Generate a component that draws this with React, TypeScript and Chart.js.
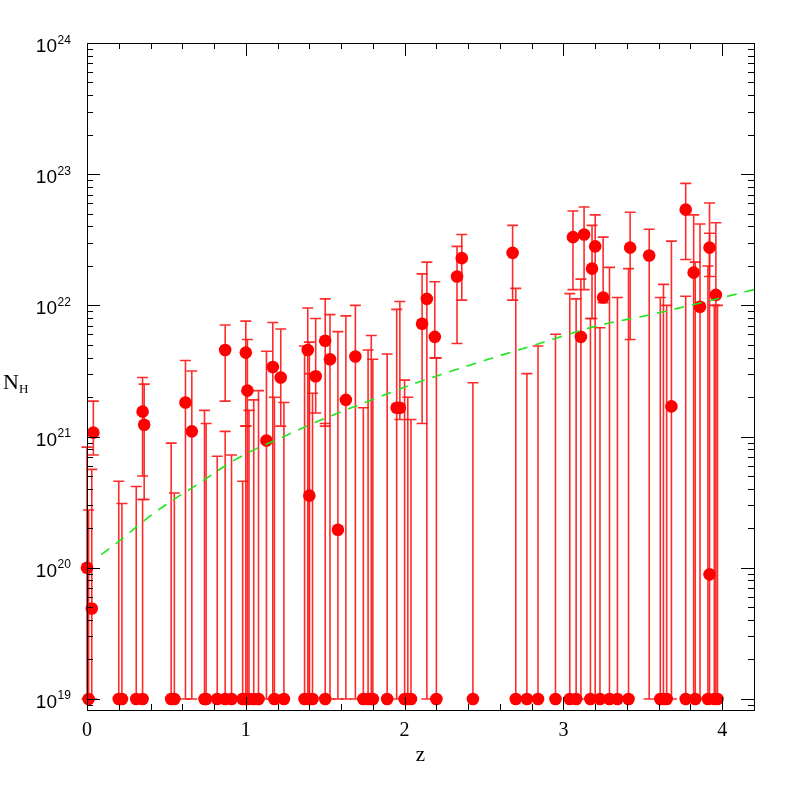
import React, { useEffect, useRef } from 'react';
import { Chart, registerables } from 'chart.js';

Chart.register(...registerables);

// Detections: redshift, log10 N_H, lower and upper error (log10)
const detZ = [0.00, 0.03, 0.04, 0.35, 0.36, 0.62, 0.66, 0.87, 1.00, 1.01, 1.13, 1.17, 1.22, 1.39, 1.40, 1.44, 1.50, 1.53, 1.58, 1.63, 1.69, 1.95, 1.97, 2.11, 2.14, 2.19, 2.33, 2.36, 2.68, 3.06, 3.11, 3.13, 3.18, 3.20, 3.25, 3.42, 3.54, 3.68, 3.77, 3.82, 3.86, 3.92, 3.92, 3.96];
const detLogNH = [20.00, 19.69, 21.03, 21.19, 21.09, 21.26, 21.04, 21.66, 21.64, 21.35, 20.97, 21.53, 21.45, 21.66, 20.55, 21.46, 21.73, 21.59, 20.29, 21.28, 21.61, 21.22, 21.22, 21.86, 22.05, 21.76, 22.22, 22.36, 22.40, 22.52, 21.76, 22.54, 22.28, 22.45, 22.06, 22.44, 22.38, 21.23, 22.73, 22.25, 21.99, 22.44, 19.95, 22.08];
const detLogLo = [19.00, 19.00, 20.86, 20.70, 20.52, 19.00, 19.00, 21.27, 21.08, 19.00, 19.00, 19.00, 21.08, 19.00, 19.00, 21.18, 21.08, 19.00, 19.00, 19.00, 19.00, 19.00, 21.13, 21.10, 19.00, 21.60, 21.71, 22.04, 22.04, 22.12, 19.00, 22.12, 21.90, 19.00, 22.02, 21.74, 19.00, 19.00, 22.35, 19.00, 19.00, 22.22, 19.00, 19.00];
const detLogHi = [20.92, 20.75, 21.27, 21.45, 21.40, 21.58, 21.50, 21.85, 21.88, 21.74, 21.65, 21.87, 21.82, 21.98, 21.72, 21.90, 22.05, 21.93, 21.80, 21.92, 22.00, 21.97, 22.03, 22.24, 22.33, 22.18, 22.45, 22.54, 22.61, 22.72, 22.20, 22.75, 22.61, 22.69, 22.52, 22.71, 22.58, 22.49, 22.93, 22.69, 22.62, 22.78, 22.55, 22.63];

// Upper limits: plotted at 10^19 with a bar up to the limit
const limFloorLog = 19;
const limZ = [0.01, 0.20, 0.22, 0.31, 0.35, 0.53, 0.55, 0.74, 0.75, 0.82, 0.87, 0.91, 0.98, 1.00, 1.02, 1.05, 1.08, 1.18, 1.24, 1.37, 1.40, 1.42, 1.50, 1.74, 1.77, 1.79, 1.80, 1.89, 2.00, 2.02, 2.04, 2.20, 2.43, 2.70, 2.77, 2.84, 2.95, 3.04, 3.08, 3.17, 3.23, 3.29, 3.34, 3.41, 3.61, 3.63, 3.65, 3.77, 3.83, 3.91, 3.95, 3.97];
const limLogHi = [20.44, 20.66, 20.49, 20.62, 20.52, 20.95, 20.57, 21.20, 21.10, 20.85, 21.04, 20.86, 20.66, 21.08, 21.20, 21.28, 21.35, 21.30, 21.26, 21.69, 21.48, 21.33, 21.10, 21.22, 21.66, 21.77, 21.59, 21.63, 21.43, 21.30, 21.13, 21.60, 21.41, 22.13, 21.48, 21.69, 21.78, 22.09, 22.05, 21.90, 21.83, 22.29, 22.06, 22.28, 22.06, 22.16, 22.00, 22.07, 22.33, 22.30, 22.00, 22.00];

// Dashed model curve
const curveZ = [0.09, 0.21, 0.35, 0.52, 0.69, 0.90, 1.07, 1.22, 1.44, 1.75, 2.10, 2.45, 2.85, 3.20, 3.55, 3.90, 4.20];
const curveLogNH = [20.10, 20.21, 20.35, 20.50, 20.63, 20.80, 20.91, 20.99, 21.11, 21.26, 21.42, 21.56, 21.71, 21.84, 21.93, 22.03, 22.12];

// Axes
const xMin = 0;
const xMax = 4.2;
const xMajorTicks = [0, 1, 2, 3, 4];
const xMinorStep = 0.2;
const yMinLog = 18.916;
const yMaxLog = 24;
const yMajorExp = [19, 20, 21, 22, 23, 24];

const RED = '#ff0000';
const BAR = 'rgba(255,20,20,0.9)';
const GREEN = '#1ee61e';

const errorBarsPlugin = {
  id: 'errorBars',
  beforeDatasetsDraw(chart: any) {
    const ctx = chart.ctx;
    const xs = chart.scales.x;
    const ys = chart.scales.y;
    const cap = 5.5;
    ctx.save();
    ctx.strokeStyle = BAR;
    ctx.lineWidth = 1.6;
    const bar = (z: number, lo: number, hi: number, capLo: boolean) => {
      const px = xs.getPixelForValue(z);
      const pLo = ys.getPixelForValue(Math.pow(10, lo));
      const pHi = ys.getPixelForValue(Math.pow(10, hi));
      ctx.beginPath();
      ctx.moveTo(px, pLo);
      ctx.lineTo(px, pHi);
      ctx.moveTo(px - cap, pHi);
      ctx.lineTo(px + cap, pHi);
      if (capLo) {
        ctx.moveTo(px - cap, pLo);
        ctx.lineTo(px + cap, pLo);
      }
      ctx.stroke();
    };
    for (let i = 0; i < limZ.length; i++) bar(limZ[i], limFloorLog, limLogHi[i], false);
    for (let i = 0; i < detZ.length; i++) bar(detZ[i], detLogLo[i], detLogHi[i], true);
    ctx.restore();
  },
};

const framePlugin = {
  id: 'frameAxes',
  afterDraw(chart: any) {
    const ctx = chart.ctx;
    const xs = chart.scales.x;
    const ys = chart.scales.y;
    const { left, right, top, bottom } = chart.chartArea;
    ctx.save();
    ctx.strokeStyle = '#000';
    ctx.lineWidth = 1;
    ctx.strokeRect(left + 0.5, top + 0.5, right - left, bottom - top);
    const major = 13;
    const minor = 6;
    ctx.beginPath();
    const nMinor = Math.round((xMax - xMin) / xMinorStep);
    for (let i = 0; i <= nMinor; i++) {
      const v = xMin + i * xMinorStep;
      const isMajor = xMajorTicks.some((t) => Math.abs(t - v) < 1e-6);
      const len = isMajor ? major : minor;
      const px = Math.round(xs.getPixelForValue(v)) + 0.5;
      ctx.moveTo(px, bottom);
      ctx.lineTo(px, bottom - len);
      ctx.moveTo(px, top);
      ctx.lineTo(px, top + len);
    }
    for (let e = Math.floor(yMinLog); e < yMaxLog + 1; e++) {
      for (let k = 1; k <= 9; k++) {
        const lv = e + Math.log10(k);
        if (lv < yMinLog - 1e-9 || lv > yMaxLog + 1e-9) continue;
        const len = k === 1 ? major : minor;
        const py = Math.round(ys.getPixelForValue(Math.pow(10, lv))) + 0.5;
        ctx.moveTo(left, py);
        ctx.lineTo(left + len, py);
        ctx.moveTo(right, py);
        ctx.lineTo(right - len, py);
      }
    }
    ctx.stroke();

    ctx.fillStyle = '#000';
    ctx.font = '20px "Liberation Serif"';
    ctx.textAlign = 'center';
    ctx.textBaseline = 'middle';
    for (const t of xMajorTicks) {
      ctx.fillText(String(t), xs.getPixelForValue(t), bottom + 21);
    }
    ctx.font = '21px "Liberation Serif"';
    ctx.fillText('z', (left + right) / 2, bottom + 45);

    for (const e of yMajorExp) {
      const py = ys.getPixelForValue(Math.pow(10, e));
      ctx.font = '19px "Liberation Sans"';
      ctx.textAlign = 'right';
      ctx.textBaseline = 'alphabetic';
      ctx.fillText('10', 57, py + 9);
      ctx.font = '12px "Liberation Sans"';
      ctx.textAlign = 'left';
      ctx.fillText(String(e), 57.5, py + 0.5);
    }
    ctx.textAlign = 'left';
    ctx.textBaseline = 'alphabetic';
    ctx.font = '22px "Liberation Serif"';
    ctx.fillText('N', 3, 389);
    ctx.font = '13px "Liberation Serif"';
    ctx.fillText('H', 19, 393);
    ctx.restore();
  },
};

export default function App() {
  const canvasRef = useRef<HTMLCanvasElement | null>(null);

  useEffect(() => {
    const canvas = canvasRef.current;
    if (!canvas) return;
    const detData = detZ.map((z, i) => ({ x: z, y: Math.pow(10, detLogNH[i]) }));
    const limData = limZ.map((z) => ({ x: z, y: Math.pow(10, limFloorLog) }));
    const curveData = curveZ.map((z, i) => ({ x: z, y: Math.pow(10, curveLogNH[i]) }));

    const chart = new Chart(canvas, {
      type: 'scatter',
      data: {
        datasets: [
          {
            type: 'line',
            label: 'model',
            data: curveData,
            borderColor: GREEN,
            borderWidth: 1.6,
            borderDash: [10, 8],
            pointRadius: 0,
            fill: false,
            cubicInterpolationMode: 'monotone',
          } as any,
          {
            label: 'detections',
            data: detData,
            backgroundColor: RED,
            borderColor: RED,
            pointRadius: 6.3,
            borderWidth: 0,
            clip: false,
          } as any,
          {
            label: 'upper limits',
            data: limData,
            backgroundColor: RED,
            borderColor: RED,
            pointRadius: 6.3,
            borderWidth: 0,
            clip: false,
          } as any,
        ],
      },
      options: {
        responsive: false,
        animation: false,
        devicePixelRatio: 1,
        events: [],
        layout: { padding: { left: 87, right: 43, top: 43, bottom: 87 } },
        plugins: { legend: { display: false }, tooltip: { enabled: false } },
        scales: {
          x: { type: 'linear', min: xMin, max: xMax, display: false },
          y: { type: 'logarithmic', min: Math.pow(10, yMinLog), max: Math.pow(10, yMaxLog), display: false },
        },
      },
      plugins: [errorBarsPlugin, framePlugin],
    });
    return () => chart.destroy();
  }, []);

  return (
    <div style={{ position: 'absolute', left: 0, top: 0, width: 797, height: 797, background: '#fff' }}>
      <canvas ref={canvasRef} width={797} height={797} style={{ display: 'block' }} />
    </div>
  );
}
